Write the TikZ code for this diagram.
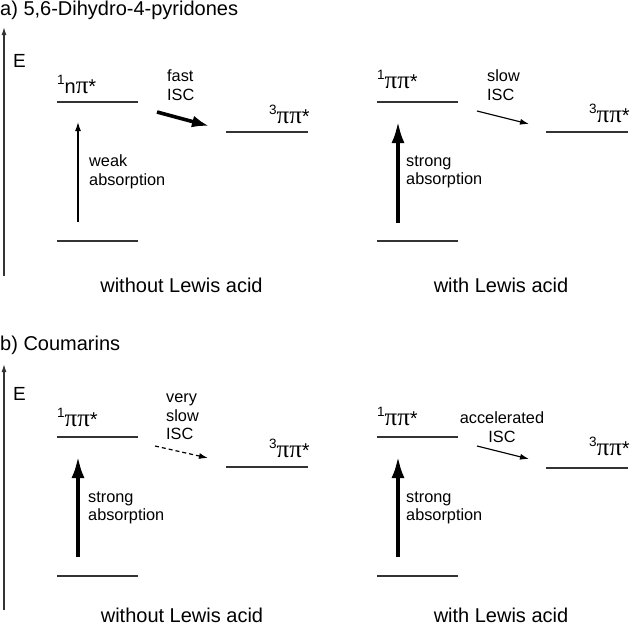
\documentclass[tikz,border=0pt]{standalone}
\usepackage{fontspec}
\setmainfont{Liberation Sans}
\newfontfamily\pifont{Liberation Serif}
\usetikzlibrary{arrows.meta}
\newcommand{\statelbl}[2]{\raisebox{0.45em}{\fontsize{13.5}{13.5}\selectfont #1}#2*}
\newcommand{\pip}{{\fontsize{25}{25}\pifont ππ}}
\newcommand{\pis}{{\fontsize{25}{25}\pifont π}}
\tikzset{
  lvl/.style={line width=1.3pt, draw=black!80},
  axis/.style={line width=1.3pt, draw=black!80, -{Latex[length=8pt,width=5pt]}},
  txt/.style={inner sep=0pt, font=\fontsize{20}{22}\selectfont},
  etxt/.style={inner sep=0pt, font=\fontsize{19}{22}\selectfont},
  lbl/.style={inner sep=0pt, align=left, font=\fontsize{16.3}{18.5}\selectfont},
  clbl/.style={inner sep=0pt, align=center, font=\fontsize{16.3}{18.5}\selectfont},
  st/.style={inner sep=0pt, font=\fontsize{20}{22}\selectfont},
  thinarr/.style={line width=1.2pt, -{Latex[length=9pt,width=6pt]}},
  thickarr/.style={line width=4pt, -{Latex[length=22pt,width=13pt]}},
  iscthick/.style={line width=3.6pt, -{Latex[length=17pt,width=12pt]}},
  dasharr/.style={line width=1.2pt, dash pattern=on 4pt off 3pt, -{Latex[length=9pt,width=6pt]}}
}
\begin{document}
\begin{tikzpicture}[x=1pt,y=-1pt]
\useasboundingbox (0,0) rectangle (632,627);
% ===== panel a =====
\node[txt, anchor=base west] (ta) at (0,15) {a) 5,6-Dihydro-4-pyridones};
\coordinate (axa0) at (4,276);
\coordinate (axa1) at (4,27);
\draw[axis] (axa0) -- (axa1);
\node[etxt, anchor=base west] (ea) at (13,67) {E};
% left a
\coordinate (aLs1) at (57,102); \coordinate (aLs2) at (138,102);
\coordinate (aLg1) at (57,241); \coordinate (aLg2) at (138,241);
\coordinate (aLt1) at (226,132); \coordinate (aLt2) at (308,132);
\draw[lvl] (aLs1) -- (aLs2);
\draw[lvl] (aLg1) -- (aLg2);
\draw[lvl] (aLt1) -- (aLt2);
\node[st, anchor=base west] (aLsl) at (57,93) {\statelbl{1}{n\pis}};
\node[st, anchor=base west] (aLtl) at (269,123) {\statelbl{3}{\pip}};
\coordinate (aLab0) at (78,222); \coordinate (aLab1) at (78,122);
\draw[thinarr] (aLab0) -- (aLab1);
\node[lbl, anchor=west] (aLabl) at (89,172) {weak\\absorption};
\coordinate (aLi0) at (157,112); \coordinate (aLi1) at (209,126);
\draw[iscthick] (aLi0) -- (aLi1);
\node[lbl, anchor=west] (aLil) at (167,85) {fast\\ISC};
\node[txt, anchor=base] (aLc) at (181.5,292) {without Lewis acid};
% right a
\coordinate (aRs1) at (377,102); \coordinate (aRs2) at (458,102);
\coordinate (aRg1) at (377,241); \coordinate (aRg2) at (458,241);
\coordinate (aRt1) at (546,132); \coordinate (aRt2) at (628,132);
\draw[lvl] (aRs1) -- (aRs2);
\draw[lvl] (aRg1) -- (aRg2);
\draw[lvl] (aRt1) -- (aRt2);
\node[st, anchor=base west] (aRsl) at (377,88) {\statelbl{1}{\pip}};
\node[st, anchor=base west] (aRtl) at (589,122) {\statelbl{3}{\pip}};
\coordinate (aRab0) at (398,223); \coordinate (aRab1) at (398,121);
\draw[thickarr] (aRab0) -- (aRab1);
\node[lbl, anchor=west] (aRabl) at (406,172) {strong\\absorption};
\coordinate (aRi0) at (477,111); \coordinate (aRi1) at (529,124);
\draw[thinarr] (aRi0) -- (aRi1);
\node[lbl, anchor=west] (aRil) at (487,85) {slow\\ISC};
\node[txt, anchor=base] (aRc) at (501,292) {with Lewis acid};
% ===== panel b =====
\node[txt, anchor=base west] (tb) at (0,350) {b) Coumarins};
\coordinate (axb0) at (4,610);
\coordinate (axb1) at (4,364);
\draw[axis] (axb0) -- (axb1);
\node[etxt, anchor=base west] (eb) at (13,400) {E};
% left b
\coordinate (bLs1) at (57,437); \coordinate (bLs2) at (138,437);
\coordinate (bLg1) at (57,576); \coordinate (bLg2) at (138,576);
\coordinate (bLt1) at (226,467); \coordinate (bLt2) at (308,467);
\draw[lvl] (bLs1) -- (bLs2);
\draw[lvl] (bLg1) -- (bLg2);
\draw[lvl] (bLt1) -- (bLt2);
\node[st, anchor=base west] (bLsl) at (57,426) {\statelbl{1}{\pip}};
\node[st, anchor=base west] (bLtl) at (269,457) {\statelbl{3}{\pip}};
\coordinate (bLab0) at (78,557); \coordinate (bLab1) at (78,456);
\draw[thickarr] (bLab0) -- (bLab1);
\node[lbl, anchor=west] (bLabl) at (88,508) {strong\\absorption};
\coordinate (bLi0) at (155,446); \coordinate (bLi1) at (208,458);
\draw[dasharr] (bLi0) -- (bLi1);
\node[lbl, anchor=west] (bLil) at (166,417) {very\\slow\\ISC};
\node[txt, anchor=base] (bLc) at (182,622) {without Lewis acid};
% right b
\coordinate (bRs1) at (377,437); \coordinate (bRs2) at (458,437);
\coordinate (bRg1) at (377,576); \coordinate (bRg2) at (458,576);
\coordinate (bRt1) at (546,468); \coordinate (bRt2) at (628,468);
\draw[lvl] (bRs1) -- (bRs2);
\draw[lvl] (bRg1) -- (bRg2);
\draw[lvl] (bRt1) -- (bRt2);
\node[st, anchor=base west] (bRsl) at (377,425) {\statelbl{1}{\pip}};
\node[st, anchor=base west] (bRtl) at (589,455) {\statelbl{3}{\pip}};
\coordinate (bRab0) at (398,557); \coordinate (bRab1) at (398,456);
\draw[thickarr] (bRab0) -- (bRab1);
\node[lbl, anchor=west] (bRabl) at (406,508) {strong\\absorption};
\coordinate (bRi0) at (477,446); \coordinate (bRi1) at (529,459);
\draw[thinarr] (bRi0) -- (bRi1);
\node[clbl] (bRil) at (502,427) {accelerated\\ISC};
\node[txt, anchor=base] (bRc) at (501,622) {with Lewis acid};
\end{tikzpicture}
\end{document}
